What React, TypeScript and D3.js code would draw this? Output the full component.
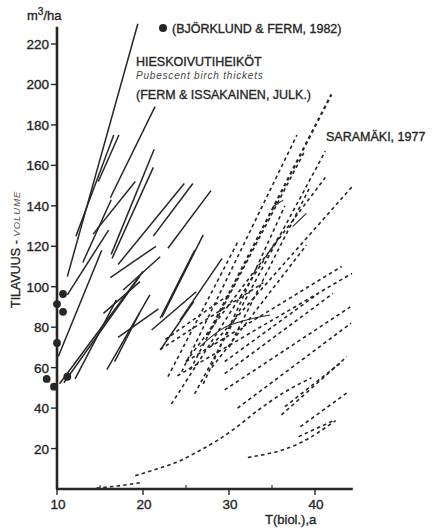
import React from 'react';
import * as d3 from 'd3';

const xTicks = [10, 20, 30, 40];
const xMinorTicks = [15, 25, 35];
const yTicks = [20, 40, 60, 80, 100, 120, 140, 160, 180, 200, 220];

// Björklund & Ferm 1982 observations (age, volume)
const bjorklundAge = [10.7, 10.0, 10.7, 10.0, 8.8, 9.65, 11.2];
const bjorklundVol = [96.4, 91.4, 87.6, 72.2, 54.4, 50.6, 55.5];

// Pubescent birch thickets (Ferm & Issakainen) – growth segments [age1, vol1, age2, vol2]
const birchSegments: number[][] = [
  [11.2, 105, 19.4, 230],
  [16.2, 144, 21.4, 189],
  [12.2, 125, 16.6, 175],
  [14.8, 152, 17.2, 175],
  [16.3, 116, 21.3, 168],
  [16.4, 114, 21.2, 159],
  [14.2, 126, 19.1, 152],
  [13.0, 112, 16.3, 143],
  [17.1, 111, 24.8, 151],
  [21.2, 125, 25.8, 151],
  [22.9, 119, 27.9, 147.5],
  [22.2, 85, 27.0, 125.6],
  [24.3, 83.5, 29.2, 114],
  [11.2, 96, 16.0, 128],
  [10.15, 65.5, 15.2, 118],
  [10.3, 52, 20.0, 107.5],
  [10.8, 52.5, 19.6, 105],
  [12.1, 54.4, 16.9, 93.5],
  [16.2, 104.5, 21.5, 120],
  [17.7, 98.4, 22.0, 114.8],
  [15.4, 86.8, 19.65, 102.5],
  [15.8, 59, 20.8, 96],
  [17.1, 75, 21.8, 89],
  [16.7, 63, 19.6, 87],
  [22.0, 84.4, 26.0, 118],
  [21.0, 78.6, 26.2, 97.5],
  [22.0, 68.7, 25.9, 92.6],
];

// Short hand-drawn solid traces inside the Saramäki fan
const traceAges: number[][] = [
  [26.6, 29.3, 31.3, 34.8],
  [35.1, 36.3],
  [37.4, 39.0],
];
const traceVols: number[][] = [
  [70.3, 79.4, 82.7, 86],
  [139.5, 142.8],
  [129.7, 136.3],
];

// Saramäki 1977 – dashed growth curves, as [age, volume] pairs
const saramakiAges: number[][] = [
  [27.5, 41.9],
  [24.5, 37.9],
  [25.5, 38.8],
  [26.0, 41.2],
  [25.0, 41.2],
  [28.0, 44.3],
  [23.3, 36.0],
  [28.0, 39.0],
  [27.0, 36.5],
  [30.0, 39.5],
  [29.5, 42.1],
  [29.5, 40.4],
  [29.5, 44.1],
  [31.0, 44.2],
  [36.1, 43.7],
  [36.5, 42.9],
  [38.3, 43.9],
  [38.1, 42.3],
  [25.0, 43.1],
  [24.0, 44.3],
  [22.0, 34.0],
  [22.6, 30.0],
  [22.9, 31.0],
  [32.2, 38.0, 42.4],
  [14.6, 17.0, 20.0],
  [19.1, 21.6, 23.9, 26.2, 28.6, 30.7, 33.4, 36.5, 39.6],
];
const saramakiVols: number[][] = [
  [76, 195],
  [58, 175],
  [59, 167],
  [47, 167],
  [63, 154],
  [71, 149.4],
  [42, 126],
  [60, 120.6],
  [52, 140],
  [70, 150],
  [57, 96.7],
  [63, 96.7],
  [49, 90],
  [40, 82],
  [36.6, 65.4],
  [40.7, 62.1],
  [30.8, 48.1],
  [25.9, 34.1],
  [63, 110],
  [56, 106.6],
  [69, 102],
  [74, 96],
  [55.5, 122],
  [15.6, 22.2, 33.8],
  [0.4, 1.5, 3.3],
  [6.6, 9.9, 13.2, 18.1, 23.9, 30, 39, 48, 55],
];

const INK = '#262626';
const FONT = '"Liberation Sans", Arial, Helvetica, sans-serif';

export default function App() {
  const x = d3.scaleLinear().domain([10, 40]).range([57, 315]);
  const y = d3.scaleLinear().domain([0, 220]).range([489, 44]);
  const line = d3
    .line<[number, number]>()
    .x((d) => x(d[0]))
    .y((d) => y(d[1]))
    .curve(d3.curveMonotoneX);

  const x0 = x(10);
  const xEnd = x(44.4);
  const yTop = y(228.5);
  const textStroke = { stroke: INK, strokeWidth: 0.35 };

  return (
    <svg
      width={432}
      height={528}
      style={{ position: 'absolute', left: 0, top: 0, background: '#fff' }}
      fontFamily={FONT}
    >
      <rect width={432} height={528} fill="#fff" />
      {/* Saramäki dashed curves */}
      <g fill="none" stroke={INK} strokeDasharray="3.5 3.2">
        {saramakiAges.map((ages, i) => {
          const pts = ages.map((a, j) => [a, saramakiVols[i][j]] as [number, number]);
          return <path key={i} d={line(pts) || ''} strokeWidth={i === 0 ? 2.2 : 1.6} />;
        })}
      </g>
      {/* hand-drawn traces */}
      <g fill="none" stroke={INK} strokeWidth={1.1}>
        {traceAges.map((ages, i) => {
          const pts = ages.map((a, j) => [a, traceVols[i][j]] as [number, number]);
          return <path key={i} d={line(pts) || ''} />;
        })}
      </g>
      {/* Birch thicket solid segments */}
      <g fill="none" stroke={INK} strokeWidth={1.5}>
        {birchSegments.map((s, i) => (
          <line key={i} x1={x(s[0])} y1={y(s[1])} x2={x(s[2])} y2={y(s[3])} />
        ))}
      </g>
      {/* Axes */}
      <g stroke={INK} fill="none">
        <line x1={x0} y1={y(0)} x2={x0} y2={yTop} strokeWidth={2.6} />
        <line x1={x0 - 1} y1={y(0)} x2={xEnd} y2={y(0)} strokeWidth={2.6} />
        {yTicks.map((t) => (
          <line key={t} x1={x0 - 6} x2={x0} y1={y(t)} y2={y(t)} strokeWidth={1.4} />
        ))}
        {xTicks.map((t) => (
          <line key={t} x1={x(t)} x2={x(t)} y1={y(0)} y2={y(0) + 6} strokeWidth={1.4} />
        ))}
        {xMinorTicks.map((t) => (
          <line key={t} x1={x(t)} x2={x(t)} y1={y(0)} y2={y(0) - 4} strokeWidth={1.1} />
        ))}
      </g>
      <g fill={INK} fontSize={13.5} textAnchor="end" {...textStroke}>
        {yTicks.map((t) => (
          <text key={t} x={x0 - 8} y={y(t) + 5}>
            {t}
          </text>
        ))}
      </g>
      <g fill={INK} fontSize={13.5} textAnchor="middle" {...textStroke}>
        {xTicks.map((t) => (
          <text key={t} x={x(t) + 1} y={y(0) + 20}>
            {t}
          </text>
        ))}
      </g>
      {/* Björklund & Ferm points */}
      <g fill={INK}>
        {bjorklundAge.map((a, i) => (
          <circle key={i} cx={x(a)} cy={y(bjorklundVol[i])} r={3.9} />
        ))}
      </g>
      {/* Axis titles */}
      <text x={27} y={20} fontSize={13} fill={INK} {...textStroke}>
        m<tspan dy={-5} fontSize={10}>3</tspan>
        <tspan dy={5}>/ha</tspan>
      </text>
      <text transform="translate(20,308) rotate(-90)" fontSize={12.5} fill={INK} {...textStroke}>
        TILAVUUS -{' '}
        <tspan fontStyle="italic" fontSize={9.5} fill="#555" stroke="none" letterSpacing={1}>
          VOLUME
        </tspan>
      </text>
      <text x={265} y={524} fontSize={13} fill={INK} {...textStroke}>
        T(biol.),a
      </text>
      {/* Legend / annotations */}
      <circle cx={163} cy={28} r={4} fill={INK} />
      <text x={172} y={33} fontSize={12.5} fill={INK} {...textStroke}>
        (BJÖRKLUND &amp; FERM, 1982)
      </text>
      <text x={136} y={66} fontSize={12.5} fill={INK} {...textStroke}>
        HIESKOIVUTIHEIKÖT
      </text>
      <text x={136} y={79} fontSize={10} fontStyle="italic" fill="#444" letterSpacing={0.8}>
        Pubescent birch thickets
      </text>
      <text x={136} y={99} fontSize={12.5} fill={INK} {...textStroke}>
        (FERM &amp; ISSAKAINEN, JULK.)
      </text>
      <text x={326} y={141} fontSize={12.5} fill={INK} {...textStroke}>
        SARAMÄKI, 1977
      </text>
    </svg>
  );
}
